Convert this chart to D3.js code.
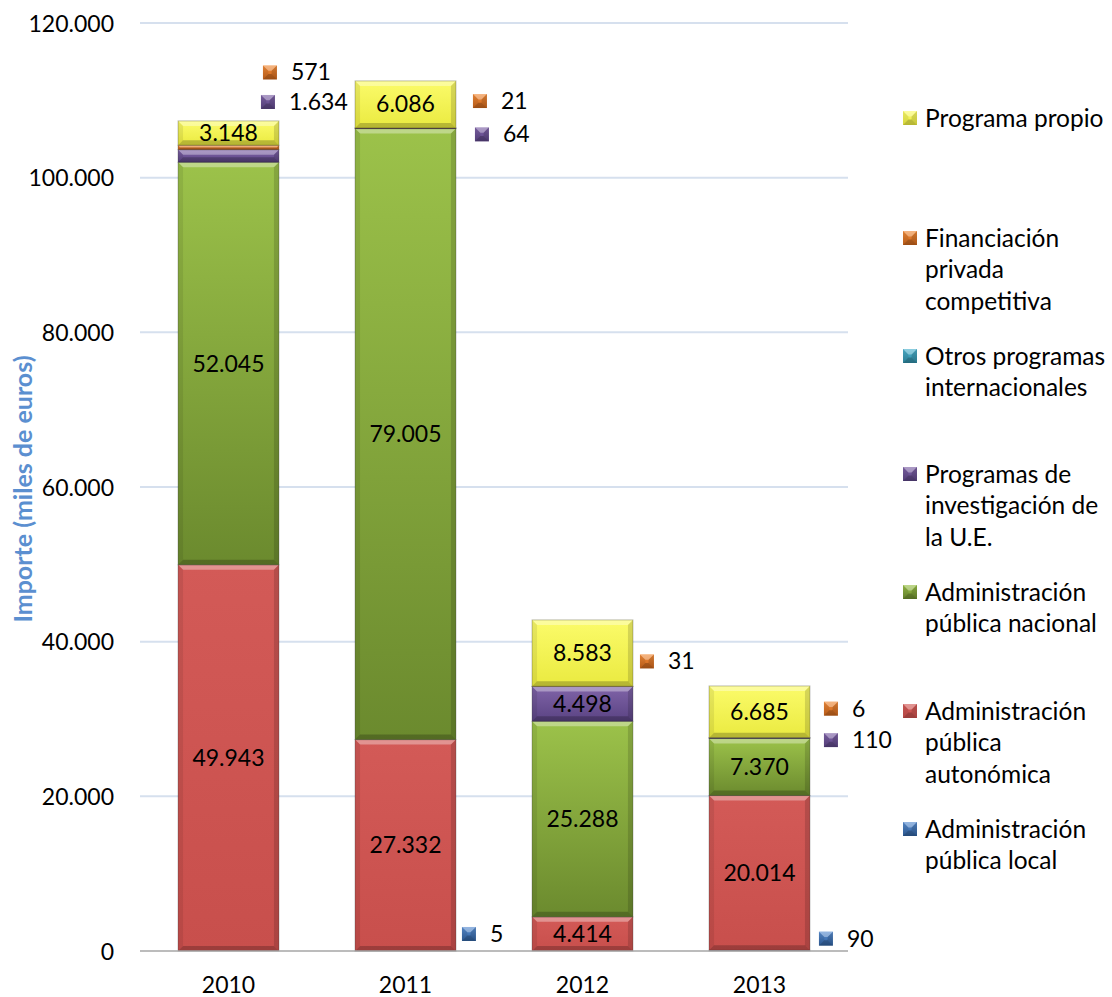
<!DOCTYPE html>
<html><head><meta charset="utf-8">
<script src="https://cdn.jsdelivr.net/npm/d3@7"></script>
<style>
body{margin:0;background:#fff;}
text{font-family:Lato,"Open Sans",sans-serif;}
</style></head>
<body>
<svg id="c" width="1112" height="997"></svg>
<script>
// ---- data ----
const years = ["2010","2011","2012","2013"];
const seriesNames = ["Administración pública local","Administración pública autonómica","Administración pública nacional","Programas de investigación de la U.E.","Otros programas internacionales","Financiación privada competitiva","Programa propio"];
const local       = [0, 5, 0, 90];
const autonomica  = [49943, 27332, 4414, 20014];
const nacional    = [52045, 79005, 25288, 7370];
const ue          = [1634, 64, 4498, 110];
const otros       = [0, 0, 0, 0];
const privada     = [571, 21, 31, 6];
const propio      = [3148, 6086, 8583, 6685];
const yTicks = [0, 20000, 40000, 60000, 80000, 100000, 120000];
const legendLines = [
  ["Programa propio"],
  ["Financiación","privada","competitiva"],
  ["Otros programas","internacionales"],
  ["Programas de","investigación de","la U.E."],
  ["Administración","pública nacional"],
  ["Administración","pública","autonómica"],
  ["Administración","pública local"]
];
// outside-label layout: [seriesIndex, yearIndex, dx from bar right edge, dy from segment centre]
const outsideLabels = [
  [5,0,-9,-75],[3,0,-11,-54],
  [5,1,24,-27],[3,1,26,6],[0,1,13,-17],
  [5,2,14,-25],
  [5,3,21,-29],[3,3,21,2],[0,3,16,-12]
];

const seriesValues = [local, autonomica, nacional, ue, otros, privada, propio];
const colors = [
  ["#5b8fd2","#2f5f9c"],
  ["#d35a57","#c84f4c"],
  ["#9cc24a","#6b8a2e"],
  ["#8064a8","#5a4383"],
  ["#4fb3cf","#2f8aa3"],
  ["#f28c3a","#c8631a"],
  ["#fbfb6a","#eaea40"]
];

const svg = d3.select("#c");
const fmt = v => d3.format(",")(v).replace(/,/g,".");

const x = d3.scaleBand().domain(years).range([140,848]).paddingInner(0.43).paddingOuter(0.215);
const y = d3.scaleLinear().domain([0,120000]).range([951,23]);

const defs = svg.append("defs");
colors.forEach((c,i)=>{
  const g = defs.append("linearGradient").attr("id","g"+i).attr("x1",0).attr("y1",0).attr("x2",0).attr("y2",1);
  g.append("stop").attr("offset","0%").attr("stop-color",c[0]);
  g.append("stop").attr("offset","100%").attr("stop-color",c[1]);
});

// gridlines
svg.append("g").selectAll("line").data(yTicks.filter(d=>d>0)).join("line")
  .attr("x1",140).attr("x2",848).attr("y1",d=>y(d)).attr("y2",d=>y(d))
  .attr("stroke","#d6e0ee").attr("stroke-width",2);

// y axis labels
const yAxis = d3.axisLeft(y).tickValues(yTicks).tickFormat(fmt).tickSize(0).tickPadding(0);
const ya = svg.append("g").attr("transform","translate(114,0)").call(yAxis);
ya.select(".domain").remove();
ya.selectAll("text").attr("font-size",23).attr("font-family","Lato").attr("fill","#000").attr("dy","0.35em");

// axis title
svg.append("text").attr("transform","translate(32,489) rotate(-90)").attr("text-anchor","middle")
  .attr("font-size",25).attr("font-weight","bold").attr("fill","#5b8fd0").text("Importe (miles de euros)");

// stack
const table = years.map((yr,i)=>{const o={year:yr}; seriesNames.forEach((s,j)=>o[s]=seriesValues[j][i]); return o;});
const stacked = d3.stack().keys(seriesNames)(table);

function bevel(g, x0, y0, w, h, b){
  b = Math.min(b, h/2, w/2);
  const pts = (a)=>a.map(p=>p.join(",")).join(" ");
  g.append("polygon").attr("points",pts([[x0,y0],[x0+w,y0],[x0+w-b,y0+b],[x0+b,y0+b]])).attr("fill","#fff").attr("opacity",0.35);
  g.append("polygon").attr("points",pts([[x0,y0+h],[x0+w,y0+h],[x0+w-b,y0+h-b],[x0+b,y0+h-b]])).attr("fill","#000").attr("opacity",0.22);
  g.append("polygon").attr("points",pts([[x0,y0],[x0+b,y0+b],[x0+b,y0+h-b],[x0,y0+h]])).attr("fill","#000").attr("opacity",0.08);
  g.append("polygon").attr("points",pts([[x0+w,y0],[x0+w-b,y0+b],[x0+w-b,y0+h-b],[x0+w,y0+h]])).attr("fill","#000").attr("opacity",0.14);
}

const barsG = svg.append("g");
stacked.forEach((layer,si)=>{
  layer.forEach((d,yi)=>{
    const v = d[1]-d[0];
    if(v<=0) return;
    const x0 = x(years[yi]), w = x.bandwidth();
    const y0 = y(d[1]), h = y(d[0])-y(d[1]);
    const g = barsG.append("g");
    g.append("rect").attr("x",x0).attr("y",y0).attr("width",w).attr("height",h).attr("fill",`url(#g${si})`);
    bevel(g,x0,y0,w,h,5);
    g.append("rect").attr("x",x0).attr("y",y0).attr("width",w).attr("height",h).attr("fill","none").attr("stroke","#000").attr("stroke-opacity",0.25).attr("stroke-width",1);
  });
});

// baseline
svg.append("line").attr("x1",140).attr("x2",848).attr("y1",951).attr("y2",951).attr("stroke","#a6a6a6").attr("stroke-width",1.5);

// inside labels
const labelsG = svg.append("g");
stacked.forEach((layer,si)=>{
  layer.forEach((d,yi)=>{
    const v = d[1]-d[0];
    if(v < 2000) return;
    labelsG.append("text").attr("x",x(years[yi])+x.bandwidth()/2).attr("y",y((d[0]+d[1])/2)).attr("dy","0.35em")
      .attr("text-anchor","middle").attr("font-size",23).attr("fill","#000").text(fmt(v));
  });
});

function marker(g,cx,cy,si,s){
  const x0=cx-s/2,y0=cy-s/2;
  g.append("rect").attr("x",x0).attr("y",y0).attr("width",s).attr("height",s).attr("fill",`url(#g${si})`);
  bevel(g,x0,y0,s,s,s/2.6);
}

// outside labels
outsideLabels.forEach(([si,yi,dx,dy])=>{
  const d = stacked[si][yi];
  const cx = x(years[yi])+x.bandwidth()+dx;
  const cy = y((d[0]+d[1])/2)+dy;
  marker(labelsG,cx,cy,si,14);
  labelsG.append("text").attr("x",cx+21).attr("y",cy).attr("dy","0.35em").attr("font-size",23).attr("fill","#000").text(fmt(seriesValues[si][yi]));
});

// x axis labels
const xAxis = d3.axisBottom(x).tickSize(0).tickPadding(0);
const xa = svg.append("g").attr("transform","translate(0,985)").call(xAxis);
xa.select(".domain").remove();
xa.selectAll("text").attr("font-size",23).attr("font-family","Lato").attr("fill","#000").attr("dy","0.35em");

// legend
const legY = [118,238,356,474,592,711,829];
const lg = svg.append("g");
legendLines.forEach((lines,i)=>{
  const si = 6-i;
  marker(lg,910,legY[i],si,14);
  lines.forEach((t,k)=>{
    lg.append("text").attr("x",925).attr("y",legY[i]+k*31.6).attr("dy","0.35em").attr("font-size",24.5).attr("fill","#000").text(t);
  });
});
</script>
</body></html>
